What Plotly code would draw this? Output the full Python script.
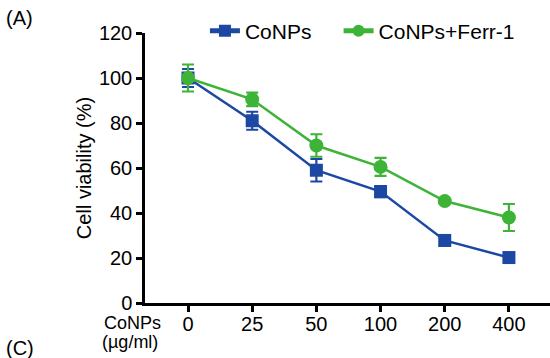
import plotly.graph_objects as go

doses = ["0", "25", "50", "100", "200", "400"]
conps = [100, 81, 59, 49.5, 27.8, 20.2]
conps_err = [4, 4, 5, 2.5, 2.2, 1.5]
ferr = [100, 90.5, 70, 60.5, 45.3, 38]
ferr_err = [6, 3, 5, 4, 1, 6]
y_ticks = [0, 20, 40, 60, 80, 100, 120]

BLUE = "#1c48a4"
GREEN = "#3db337"
FONT = "Liberation Sans, Arial, sans-serif"

fig = go.Figure()
fig.add_trace(go.Scatter(
    x=list(range(len(doses))), y=conps, name="CoNPs", mode="lines+markers",
    line=dict(color=BLUE, width=2.5),
    marker=dict(symbol="square", size=13, color=BLUE),
    error_y=dict(type="data", array=conps_err, color=BLUE, thickness=2.2, width=6),
    legend="legend",
))
fig.add_trace(go.Scatter(
    x=list(range(len(doses))), y=ferr, name="CoNPs+Ferr-1", mode="lines+markers",
    line=dict(color=GREEN, width=2.5),
    marker=dict(symbol="circle", size=14, color=GREEN),
    error_y=dict(type="data", array=ferr_err, color=GREEN, thickness=2.2, width=6),
    legend="legend2",
))

leg_common = dict(orientation="h", yanchor="middle", xanchor="left",
                  font=dict(size=21), bgcolor="rgba(0,0,0,0)", itemwidth=30,
                  itemsizing="constant")

fig.update_layout(
    width=550, height=358,
    margin=dict(l=145, r=0, t=33, b=55),
    paper_bgcolor="white", plot_bgcolor="white",
    font=dict(family=FONT, size=20, color="black"),
    showlegend=True,
    legend=dict(x=0.148, y=1 + 2/270, **leg_common),
    legend2=dict(x=0.478, y=1 + 2/270, **leg_common),
    xaxis=dict(
        tickmode="array", tickvals=list(range(len(doses))), ticktext=doses,
        range=[-0.67, 5.64], showline=True, linecolor="black", linewidth=2.5,
        ticks="outside", ticklen=6, tickwidth=2.5, tickcolor="black",
        showgrid=False, zeroline=False, tickfont=dict(size=20),
        ticklabelstandoff=-5,
    ),
    yaxis=dict(
        range=[0, 120], tickvals=y_ticks, showline=True, linecolor="black",
        linewidth=2.5, ticks="outside", ticklen=6, tickwidth=2.5, tickcolor="black",
        showgrid=False, zeroline=False, tickfont=dict(size=20),
        title=dict(text="Cell viability (%)", font=dict(size=20), standoff=2),
    ),
    annotations=[
        dict(text="(A)", xref="paper", yref="paper", x=-141/405, y=1 + 15/270,
             xanchor="left", yanchor="middle", showarrow=False, font=dict(size=20)),
        dict(text="(C)", xref="paper", yref="paper", x=-141/405, y=-45/270,
             xanchor="left", yanchor="middle", showarrow=False, font=dict(size=20)),
        dict(text="CoNPs", xref="paper", yref="paper", x=-13/405, y=-20/270,
             xanchor="center", yanchor="middle", showarrow=False,
             font=dict(size=18)),
        dict(text="(µg/ml)", xref="paper", yref="paper", x=-15/405, y=-39/270,
             xanchor="center", yanchor="middle", showarrow=False,
             font=dict(size=18)),
    ],
)

fig.write_html("out.html")
